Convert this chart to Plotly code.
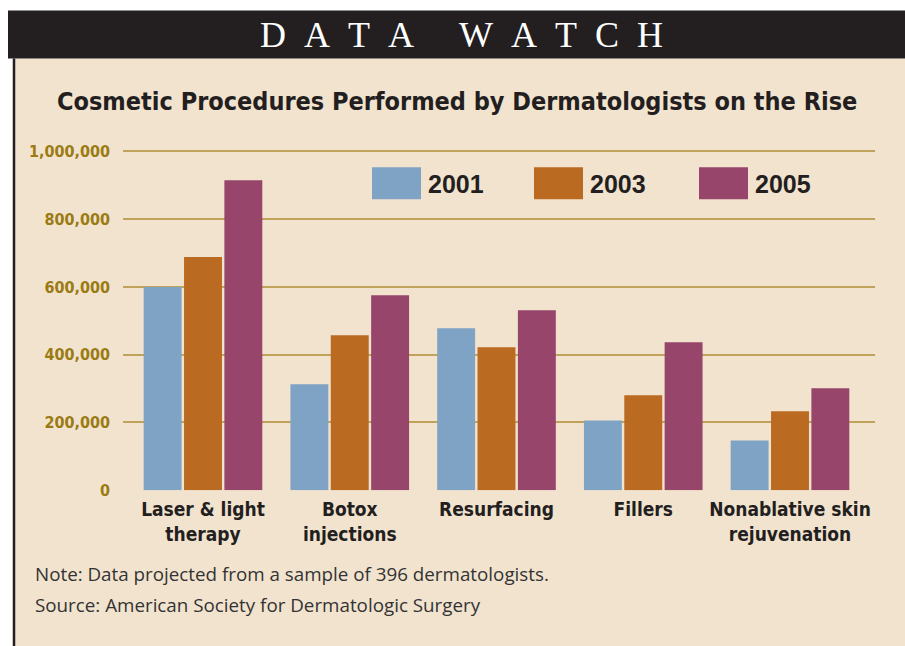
import plotly.graph_objects as go

categories = ["Laser & light<br>therapy", "Botox<br>injections", "Resurfacing", "Fillers", "Nonablative skin<br>rejuvenation"]
years = ["2001", "2003", "2005"]
values_2001 = [600000, 313000, 478000, 206000, 147000]
values_2003 = [688000, 457000, 422000, 280000, 233000]
values_2005 = [915000, 575000, 531000, 437000, 301000]
series = [values_2001, values_2003, values_2005]
colors = ["#7fa3c4", "#bb6a22", "#97456b"]
y_ticks = [0, 200000, 400000, 600000, 800000, 1000000]
y_tick_labels = ["0", "200,000", "400,000", "600,000", "800,000", "1,000,000"]

W, H = 905, 657
# observed vertical mapping of the photographed page: img_y = 0.976 * fig_y + 5.6
VS, VO = 0.976, 5.6
def px(x):
    return x / W
def py(y_img):
    y = (y_img - VO) / VS
    return (H - y) / H

BG = "#f2e3cf"
DARK = "#231f20"
GOLD = "#c0a25a"
OLIVE = "#9a7b12"
NARROW = "DejaVu Sans Condensed, Liberation Sans Narrow, sans-serif"
NOTE_FONT = "Open Sans, Liberation Sans, sans-serif"

fig = go.Figure()
for name, vals, col in zip(years, series, colors):
    fig.add_trace(go.Bar(x=list(range(len(categories))), y=vals, name=name,
                         marker=dict(color=col, line=dict(width=0)),
                         showlegend=False, hoverinfo="skip"))

# axis geometry (image pixels)
x0_px, x1_px = 123, 875
spacing = 146.75
r0 = -(203 - x0_px) / spacing
r1 = r0 + (x1_px - x0_px) / spacing
ppu = 339 / 1e6
ytop = 1010000
y_top_px = 490 - ytop * ppu

shapes = [
    dict(type="rect", xref="paper", yref="paper", x0=px(14), x1=1, y0=0, y1=py(58),
         fillcolor=BG, line=dict(width=0), layer="below"),
    dict(type="rect", xref="paper", yref="paper", x0=px(8), x1=1, y0=py(58), y1=min(1, py(10)),
         fillcolor=DARK, line=dict(width=0), layer="below"),
    dict(type="line", xref="paper", yref="paper", x0=px(14), x1=px(14), y0=0, y1=py(58),
         line=dict(color=DARK, width=2.5), layer="below"),
]
annotations = [
    dict(text="D\u00a0\u00a0A\u00a0\u00a0T\u00a0\u00a0A\u00a0\u00a0\u00a0\u00a0\u00a0W\u00a0\u00a0A\u00a0\u00a0T\u00a0\u00a0C\u00a0\u00a0H",
         x=px(462), y=py(35), xref="paper", yref="paper",
         showarrow=False, xanchor="center", yanchor="middle",
         font=dict(family="Liberation Serif, DejaVu Serif, serif", size=36, color="white")),
    dict(text="<b>Cosmetic Procedures Performed by Dermatologists on the Rise</b>",
         x=px(457), y=py(101), xref="paper", yref="paper", showarrow=False,
         xanchor="center", yanchor="middle",
         font=dict(family=NARROW, size=25, color=DARK)),
    dict(text="Note: Data projected from a sample of 396 dermatologists.",
         x=px(33), y=py(574), xref="paper", yref="paper", showarrow=False,
         xanchor="left", yanchor="middle",
         font=dict(family=NOTE_FONT, size=18.8, color="#333333")),
    dict(text="Source: American Society for Dermatologic Surgery",
         x=px(33), y=py(605), xref="paper", yref="paper", showarrow=False,
         xanchor="left", yanchor="middle",
         font=dict(family=NOTE_FONT, size=18.8, color="#333333")),
]
# legend (custom swatches)
legend_x = [372, 534, 699]
for name, col, lx in zip(years, colors, legend_x):
    shapes.append(dict(type="rect", xref="paper", yref="paper", x0=px(lx), x1=px(lx + 49),
                       y0=py(199), y1=py(167), fillcolor=col, line=dict(width=0)))
    annotations.append(dict(text="<b>%s</b>" % name, x=px(lx + 54), y=py(184),
                            xref="paper", yref="paper", showarrow=False,
                            xanchor="left", yanchor="middle",
                            font=dict(family="Liberation Sans, Arial, sans-serif", size=25, color=DARK)))

fig.update_layout(
    width=W, height=H, margin=dict(l=0, r=0, t=0, b=0, pad=0),
    paper_bgcolor="white", plot_bgcolor="rgba(0,0,0,0)",
    barmode="group", bargap=0.175, bargroupgap=0.06,
    shapes=shapes, annotations=annotations,
    xaxis=dict(domain=[px(x0_px), px(x1_px)], range=[r0, r1],
               tickmode="array", tickvals=list(range(len(categories))), ticktext=["<b>%s</b>" % c for c in categories],
               showgrid=False, zeroline=False, showline=False, ticks="",
               ticklabelstandoff=6,
               tickfont=dict(family=NARROW, size=19, color=DARK)),
    yaxis=dict(domain=[py(490), py(y_top_px)], range=[0, ytop],
               tickmode="array", tickvals=y_ticks, ticktext=["<b>%s</b>" % t for t in y_tick_labels],
               showgrid=True, gridcolor=GOLD, gridwidth=2, zeroline=False, showline=False,
               ticks="", ticklabelstandoff=12,
               tickfont=dict(family=NARROW, size=16, color=OLIVE)),
    font=dict(family=NARROW),
)

post = (
    "document.documentElement.style.cssText='margin:0;padding:0;overflow:hidden;';"
    "document.body.style.cssText='margin:0;padding:0;overflow:hidden;';"
)
fig.write_html("out.html", config={"displayModeBar": False}, post_script=post)
